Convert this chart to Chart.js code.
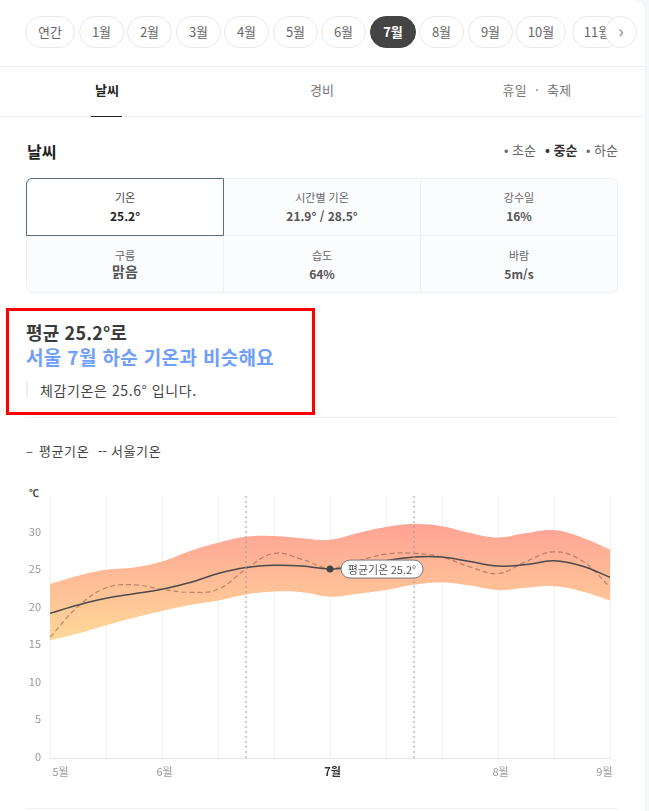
<!DOCTYPE html>
<html lang="ko"><head><meta charset="utf-8">
<script src="https://cdn.jsdelivr.net/npm/chart.js@4"></script>
<style>
html,body{margin:0;padding:0;width:649px;height:811px;overflow:hidden;background:#f6f7f9;font-family:"Noto Sans CJK KR","Noto Sans",sans-serif;color:#333}
#card{position:absolute;left:0;top:0;width:645px;height:811px;background:#fff;border-top-right-radius:10px;box-shadow:0 0 2px #e6e8ec}
.a{position:absolute;white-space:nowrap;line-height:1}
.pill{position:absolute;top:16px;height:30px;line-height:30px;border:1px solid #e8e8e8;border-radius:16px;text-align:center;font-size:13px;color:#666;background:#fff;box-sizing:content-box}
.hr{position:absolute;height:1px;background:#eef0f2}
.c{text-align:center;transform:translateX(-50%)}
.cell{position:absolute;box-sizing:border-box;background:#fbfcfe;border:1px solid #eff1f4;text-align:center}
.cell .l{position:absolute;left:0;right:0;top:11px;font-size:11px;line-height:14px;color:#666}
.cell .v{position:absolute;left:0;right:0;top:28px;font-size:12px;line-height:17px;color:#555;font-weight:700}
.r2 .l{top:12px}.r2 .v{top:29px}
canvas{position:absolute;left:0;top:480px}
</style></head><body>
<div id="card">
<div id="pills"></div>
<div class="pill" style="left:605px;width:30px;color:#888;font-size:18px;line-height:27px">›</div>
<div class="hr" style="left:0;top:66px;width:645px"></div>
<div class="a c" style="left:107px;top:83px;font-size:13px;font-weight:700;color:#222">날씨</div>
<div class="a c" style="left:322px;top:83px;font-size:13px;color:#777">경비</div>
<div class="a c" style="left:537px;top:83px;font-size:13px;letter-spacing:.35px;color:#777">휴일 &nbsp;·&nbsp; 축제</div>
<div class="hr" style="left:0;top:116px;width:645px"></div>
<div class="a" style="left:91px;top:116px;width:31px;height:1px;background:#222"></div>
<div class="a" style="left:27px;top:143px;font-size:16px;font-weight:700;color:#222">날씨</div>
<div class="a" style="left:504px;top:143px;font-size:13px;color:#666">• 초순</div>
<div class="a" style="left:545px;top:143px;font-size:13px;font-weight:700;color:#333">• 중순</div>
<div class="a" style="left:586px;top:143px;font-size:13px;color:#666">• 하순</div>
<div class="cell" style="left:223px;top:178px;width:198px;height:58px"><div class="l">시간별 기온</div><div class="v">21.9° / 28.5°</div></div>
<div class="cell" style="left:420px;top:178px;width:198px;height:58px;border-top-right-radius:6px"><div class="l">강수일</div><div class="v">16%</div></div>
<div class="cell r2" style="left:26px;top:235px;width:198px;height:58px;border-bottom-left-radius:6px"><div class="l">구름</div><div class="v" style="font-size:14px;top:27px">맑음</div></div>
<div class="cell r2" style="left:223px;top:235px;width:198px;height:58px"><div class="l">습도</div><div class="v">64%</div></div>
<div class="cell r2" style="left:420px;top:235px;width:198px;height:58px;border-bottom-right-radius:6px"><div class="l">바람</div><div class="v">5m/s</div></div>
<div class="cell" style="left:26px;top:178px;width:198px;height:58px;background:#fff;border:1px solid #5b6b85;border-top-left-radius:6px"><div class="l" style="color:#444">기온</div><div class="v" style="color:#222">25.2°</div></div>
<div class="a" style="left:26px;top:323px;font-size:18px;letter-spacing:.15px;font-weight:700;color:#3a3a3a">평균 25.2°로</div>
<div class="a" style="left:26px;top:347px;font-size:19px;letter-spacing:.35px;font-weight:700;color:#6f9eff">서울 7월 하순 기온과 비슷해요</div>
<div class="a" style="left:26px;top:382px;width:2px;height:15px;background:#eee"></div>
<div class="a" style="left:40px;top:383px;font-size:14px;letter-spacing:.6px;color:#444">체감기온은 25.6° 입니다.</div>
<div class="a" style="left:6px;top:308px;width:303px;height:101px;border:3px solid #f00"></div>
<div class="hr" style="left:26px;top:417px;width:592px"></div>
<div class="a" style="left:26px;top:444px;font-size:13px;color:#444">–</div>
<div class="a" style="left:39px;top:444px;font-size:13px;letter-spacing:.6px;color:#444">평균기온</div>
<div class="a" style="left:98px;top:444px;font-size:13px;color:#444">--</div>
<div class="a" style="left:111px;top:444px;font-size:13px;letter-spacing:.6px;color:#444">서울기온</div>
<div class="a" style="left:29px;top:488px;font-size:10px;font-weight:700;color:#444">℃</div>
<div class="hr" style="left:26px;top:808px;width:592px"></div>
</div>
<canvas id="chart" width="640" height="310"></canvas>
<script>
const pillLabels = ['연간','1월','2월','3월','4월','5월','6월','7월','8월','9월','10월','11월'];
const pillLefts  = [25,79,127,176,224,273,321,370,419,468,516,572];
const pillWidths = [48,43,43,43,43,43,43,44,43,43,48,48];
const tickLabels = ['5월','','6월','','','7월','','','8월','','9월'];
const xNodes = [0,0.5,1,1.5,2,2.5,3,3.5,4,4.5,5,5.5,6,6.5,7,7.5,8,8.5,9,9.5,10];
const bandUpper = [23.2,24.3,25.1,25.4,26.2,27.6,28.7,29.5,29.6,29.3,29.1,30.0,30.8,31.2,30.9,30.0,29.4,30.0,30.4,29.4,27.8];
const bandLower = [15.7,16.6,17.7,18.7,19.6,20.4,21.0,21.8,22.2,22.1,21.5,21.9,22.4,23.1,23.4,23.0,22.4,22.7,22.9,22.2,21.0];
const avgTemp   = [19.3,20.4,21.3,21.9,22.5,23.4,24.6,25.4,25.7,25.6,25.2,25.6,26.3,26.8,26.8,26.2,25.6,25.8,26.3,25.6,24.1];
const seoulTemp = [16.1,20.2,22.7,23.1,22.5,22.1,22.5,25.2,27.3,26.5,25.3,26.3,27.2,27.3,26.8,25.5,24.6,26.2,27.5,26.3,22.8];
const markerLines = [3.5,6.5];
const markerIndex = 10;
const calloutText = '평균기온 25.2°';

const host = document.getElementById('pills');
pillLabels.forEach((t,i)=>{
  const d=document.createElement('div');d.className='pill';d.textContent=t;
  d.style.left=pillLefts[i]+'px';d.style.width=pillWidths[i]+'px';
  if(t==='7월'){d.style.background='#444';d.style.borderColor='#444';d.style.color='#fff';d.style.fontWeight='700';}
  host.appendChild(d);
});
const pts = a => a.map((y,i)=>({x:xNodes[i],y}));
const FONT='"Noto Sans CJK KR","Noto Sans",sans-serif';
const callout={id:'callout',afterDatasetsDraw(chart){
  const {ctx,scales:{x,y}}=chart;
  const px=x.getPixelForValue(xNodes[markerIndex]), py=y.getPixelForValue(avgTemp[markerIndex]);
  const l=px+11,w=82,h=18,t=py-h/2;
  ctx.save();
  ctx.beginPath();ctx.roundRect(l,t,w,h,9);
  ctx.fillStyle='#fff';ctx.fill();ctx.strokeStyle='#777';ctx.lineWidth=1;ctx.stroke();
  ctx.fillStyle='#555';ctx.font='11px '+FONT;ctx.textAlign='center';ctx.textBaseline='middle';
  ctx.fillText(calloutText,l+w/2,py+0.5);
  ctx.restore();
}};
new Chart(document.getElementById('chart'),{
  type:'line',
  data:{datasets:[
    ...markerLines.map(v=>({data:[{x:v,y:0},{x:v,y:35}],borderColor:'#999',borderWidth:1,borderDash:[2,3],pointRadius:0,tension:0})),
    {data:pts(avgTemp),borderColor:'#4a4a4a',borderWidth:1.5,tension:0.4,
     pointRadius:c=>c.dataIndex===markerIndex?3.5:0,pointBackgroundColor:'#444',pointBorderWidth:0},
    {data:pts(seoulTemp),borderColor:'rgba(140,90,70,.6)',borderWidth:1.2,borderDash:[5,3],tension:0.4,pointRadius:0},
    {data:pts(bandUpper),borderWidth:0,borderColor:'transparent',pointRadius:0,tension:0.4,fill:'+1',
     backgroundColor(c){
       const ch=c.chart; if(!ch.chartArea) return '#ffb';
       const s=ch.scales.y;
       const g=ch.ctx.createLinearGradient(0,s.getPixelForValue(Math.max(...bandUpper)),0,s.getPixelForValue(Math.min(...bandLower)));
       g.addColorStop(0,'#ffa395');g.addColorStop(1,'#ffd898');return g;
     }},
    {data:pts(bandLower),borderWidth:0,borderColor:'transparent',pointRadius:0,tension:0.4,fill:false}
  ]},
  options:{
    responsive:false,animation:false,
    layout:{padding:{left:0,right:30,top:11,bottom:0}},
    plugins:{legend:{display:false},tooltip:{enabled:false}},
    scales:{
      x:{type:'linear',min:0,max:10,
        grid:{color:'#f1f1f1',drawTicks:false},
        border:{color:'#e4e4e4'},
        afterFit(s){s.height=32;},
        ticks:{stepSize:1,autoSkip:false,maxRotation:0,align:'inner',labelOffset:2.5,padding:7,
          callback:v=>tickLabels[v],
          color:c=>c.index===5?'#333':'#999',
          font:c=>({family:FONT,size:11,weight:c.index===5?'700':'400'})}},
      y:{min:0,max:35,
        grid:{display:false,drawTicks:false},
        border:{color:'#f1f1f1'},
        afterFit(s){s.width=50;},
        ticks:{stepSize:5,padding:9,labelOffset:-1.5,color:'#999',font:{family:FONT,size:11},
          callback:v=>v===35?'':v}}
    }
  },
  plugins:[callout]
});
</script>
</body></html>
